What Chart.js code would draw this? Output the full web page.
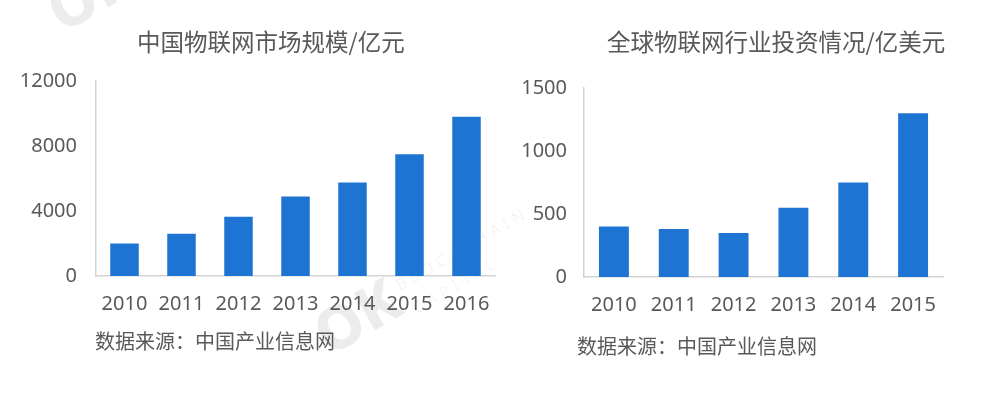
<!DOCTYPE html>
<html lang="zh-CN">
<head>
<meta charset="utf-8">
<title>物联网市场规模与投资情况</title>
<script src="https://cdn.jsdelivr.net/npm/chart.js@4.4.1/dist/chart.umd.min.js"></script>
<style>
  html, body { margin: 0; padding: 0; background: #ffffff; }
  #page { position: relative; width: 984px; height: 408px; overflow: hidden; background: #ffffff; }
  .cv { position: absolute; top: 0; height: 408px; }
  .txt { position: absolute; white-space: nowrap; color: #595959;
         font-family: "Noto Sans CJK SC", "Noto Sans", sans-serif; line-height: 1; }
  .wm { position: absolute; white-space: nowrap; line-height: 1;
        font-family: "Noto Sans", "DejaVu Sans", sans-serif; transform-origin: left top;
        transform: rotate(-30deg); }
  .wm.big { font-size: 60px; font-weight: 800; color: rgba(0,0,0,0.075); }
  .wm.small { font-size: 16px; font-weight: 400; letter-spacing: 5px; color: rgba(0,0,0,0.06); }
</style>
</head>
<body>
<div id="page">
  <!-- faint brand watermark -->
  <div class="wm big" style="left:36px; top:-12px;">OK</div>
  <div class="wm big" style="left:303px; top:311px;">OK</div>
  <div class="wm small" style="left:393px; top:279px;">BLOCKCHAIN</div>
  <div class="wm small" style="left:410px; top:302px;">CAPITAL</div>

  <div class="cv" style="left:0; width:520px;"><canvas id="chinaChart" width="520" height="408"></canvas></div>
  <div class="cv" style="left:500px; width:484px;"><canvas id="globalChart" width="484" height="408"></canvas></div>

  <div class="txt" style="left:137px; top:30px; font-size:23.5px;">中国物联网市场规模/亿元</div>
  <div class="txt" style="left:607px; top:30px; font-size:23.5px;">全球物联网行业投资情况/亿美元</div>
  <div class="txt" style="left:95px; top:331px; font-size:20px;">数据来源：中国产业信息网</div>
  <div class="txt" style="left:577px; top:336px; font-size:20px;">数据来源：中国产业信息网</div>
</div>

<script>
// China IoT market size (100 million yuan)
const chinaYears = ['2010', '2011', '2012', '2013', '2014', '2015', '2016'];
const chinaValues = [2000, 2600, 3650, 4900, 5750, 7500, 9800];
const chinaTicks = [0, 4000, 8000, 12000];

// Global IoT industry investment (100 million USD)
const globalYears = ['2010', '2011', '2012', '2013', '2014', '2015'];
const globalValues = [400, 380, 350, 550, 750, 1300];
const globalTicks = [0, 500, 1000, 1500];

const BAR_BLUE = '#1e74d2';
const AXIS_GREY = '#d4d4d4';
const TICK_TEXT = '#595959';
const TICK_FONT = { family: '"Noto Sans", "Open Sans", sans-serif', size: 20 };

function buildBarChart(canvasId, labels, values, ticks, geom) {
  const step = ticks[1] - ticks[0];
  return new Chart(document.getElementById(canvasId), {
    type: 'bar',
    data: {
      labels: labels,
      datasets: [{
        data: values,
        backgroundColor: BAR_BLUE,
        borderWidth: 0,
        barPercentage: 0.5,
        categoryPercentage: 1.0
      }]
    },
    options: {
      responsive: false,
      animation: false,
      events: [],
      layout: { padding: { left: 0, top: geom.top, right: geom.right, bottom: geom.bottom } },
      plugins: { legend: { display: false }, title: { display: false }, tooltip: { enabled: false } },
      scales: {
        x: {
          grid: { display: false, drawTicks: false },
          border: { display: true, color: AXIS_GREY, width: 1.5 },
          ticks: { color: TICK_TEXT, font: TICK_FONT, padding: geom.xPad, maxRotation: 0, autoSkip: false },
          afterFit(scale) { scale.height = 50; }
        },
        y: {
          min: ticks[0],
          max: ticks[ticks.length - 1],
          grid: { display: false, drawTicks: false },
          border: { display: true, color: AXIS_GREY, width: 1.5 },
          ticks: {
            color: TICK_TEXT, font: TICK_FONT, stepSize: step, padding: geom.yPad,
            callback: (v) => String(v)
          },
          afterFit(scale) { scale.width = geom.axisWidth; }
        }
      }
    }
  });
}

buildBarChart('chinaChart', chinaYears, chinaValues, chinaTicks,
  { top: 81, right: 25, bottom: 82, axisWidth: 96, yPad: 19, xPad: 16 });
buildBarChart('globalChart', globalYears, globalValues, globalTicks,
  { top: 88, right: 41, bottom: 81, axisWidth: 84, yPad: 17, xPad: 16 });
</script>
</body>
</html>
